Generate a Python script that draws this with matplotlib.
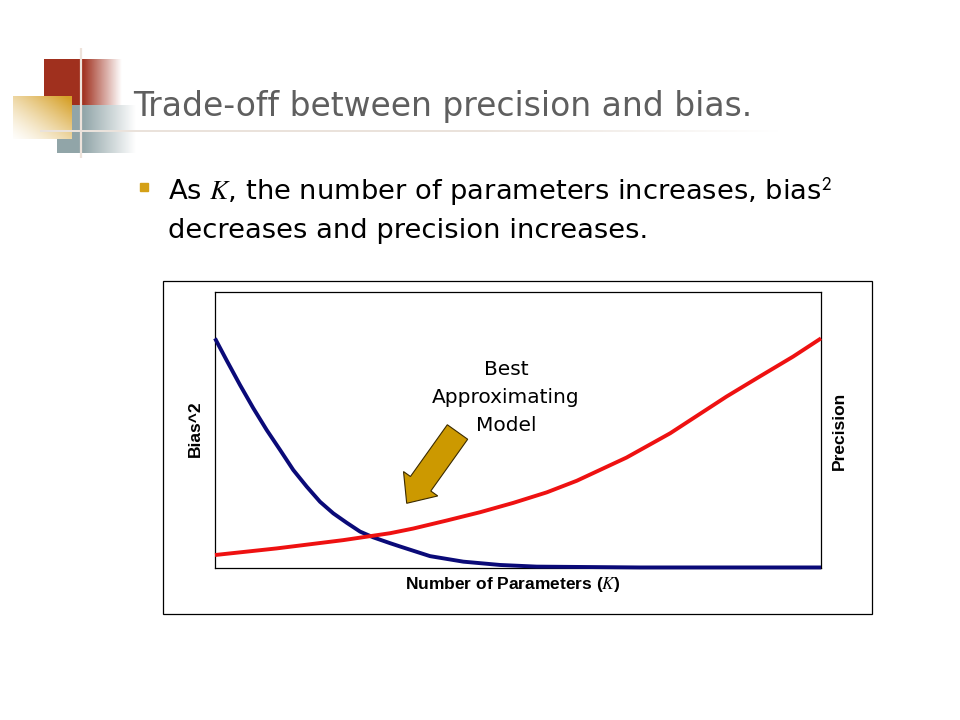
import numpy as np
import matplotlib
matplotlib.use("Agg")
import matplotlib.pyplot as plt
from matplotlib.patches import Polygon, Rectangle

plt.rcParams["mathtext.fontset"] = "stix"

# curve readings (x = number of parameters on a 0-10 scale, y = relative height)
bias_x = [0.0, 0.193, 0.413, 0.632, 0.853, 1.073, 1.292, 1.513, 1.733, 1.952,
          2.173, 2.393, 2.612, 2.888, 3.053, 3.548, 4.097, 4.703, 5.308, 7.01, 10.0]
bias_y = [0.832, 0.752, 0.663, 0.579, 0.500, 0.428, 0.355, 0.295, 0.240, 0.198,
          0.164, 0.132, 0.111, 0.090, 0.078, 0.043, 0.023, 0.011, 0.005, 0.002, 0.002]
prec_x = [0.0, 1.018, 2.117, 2.888, 3.272, 3.823, 4.373, 4.923, 5.474, 5.969,
          6.79, 7.51, 8.44, 8.99, 9.54, 10.0]
prec_y = [0.047, 0.071, 0.101, 0.126, 0.143, 0.172, 0.202, 0.236, 0.274, 0.316,
          0.400, 0.488, 0.621, 0.694, 0.766, 0.832]

title = "Trade-off between precision and bias."
bullet_1 = r"As $K$, the number of parameters increases, bias$^{\mathsf{2}}$"
bullet_2 = "decreases and precision increases."
note_lines = ["Best", "Approximating", "Model"]

W, H = 960, 720
fig = plt.figure(figsize=(W / 100, H / 100), dpi=100)
fig.patch.set_facecolor("white")

# full-figure axes in pixel units for the slide decoration
bg = fig.add_axes([0, 0, 1, 1])
bg.set_axis_off()


def block(x0, x1, y0, y1, rgb, fade_start, fade_end):
    xs = np.linspace(x0, x1, 200)
    a = np.clip((fade_end - xs) / (fade_end - fade_start), 0, 1)
    img = np.zeros((2, len(xs), 4))
    img[..., :3] = rgb
    img[..., 3] = a
    bg.imshow(img, extent=(x0, x1, y1, y0), aspect="auto", interpolation="bilinear", zorder=1)


block(44, 122, 59, 105, (0.63, 0.19, 0.12), 83, 122)
block(57, 136, 105, 153, (0.57, 0.65, 0.66), 83, 136)

# gold square, white (lower left) to gold (upper right)
gx, gy = np.meshgrid(np.linspace(0, 1, 120), np.linspace(0, 1, 90))
t = np.clip(0.05 + 0.5 * gx + 0.5 * (1 - gy), 0, 1) ** 1.4
gold = np.array([0.84, 0.63, 0.16])
img = np.ones((90, 120, 3)) * (1 - t[..., None]) + gold * t[..., None]
bg.imshow(img, extent=(13, 72, 139, 96), aspect="auto", interpolation="bilinear", zorder=2)

bg.plot([81, 81], [48, 158], color="#eee3db", lw=1.6, zorder=3, solid_capstyle="butt")
hx = np.linspace(40, 780, 300)
hl = np.zeros((1, len(hx), 4))
hl[..., :3] = (0.92, 0.89, 0.86)
hl[..., 3] = np.clip((780 - hx) / 300, 0, 1)
bg.imshow(hl, extent=(40, 780, 132.5, 130.5), aspect="auto", interpolation="bilinear", zorder=3)

bg.set_xlim(0, W)
bg.set_ylim(H, 0)

renderer = fig.canvas.get_renderer()


def fit_text(x, y, s, width, size, **kw):
    txt = bg.text(x, y, s, fontsize=size, va="baseline", ha="left", **kw)
    w = txt.get_window_extent(renderer).width
    txt.set_fontsize(size * width / w)
    return txt


fit_text(133, 116, title, 617, 26, color="#5f5f5f", family="DejaVu Sans", zorder=4)
bg.add_patch(Rectangle((140, 183), 8, 8, color="#d4a017", zorder=4))
b1 = fit_text(168, 200, bullet_1, 664, 19, color="black", family="DejaVu Sans")
bg.text(168, 238, bullet_2, fontsize=b1.get_fontsize(), va="baseline", ha="left",
        color="black", family="DejaVu Sans")

# frame around the chart picture
bg.add_patch(Rectangle((163, 281), 709, 333, fill=False, ec="black", lw=0.9, zorder=4))

# arrow pointing at the crossing
tip = np.array([406.7, 503.3])
tail = np.array([457.5, 432.0])
u = (tip - tail) / np.linalg.norm(tip - tail)
n = np.array([-u[1], u[0]]) * -1
base = tip - 24 * u
wb, wh = 12.5, 21
pts = [tail + wb * n, base + wb * n, base + wh * n, tip, base - wh * n, base - wb * n, tail - wb * n]
bg.add_patch(Polygon(pts, closed=True, fc="#cc9900", ec="#3a2a00", lw=0.8, zorder=6))

for line, yy in zip(note_lines, [375, 403, 431]):
    bg.text(506, yy, line, fontsize=14.5, ha="center", va="baseline", family="DejaVu Sans",
            color="black", zorder=6)

# the chart itself
ax = fig.add_axes([215 / W, 1 - 568 / H, (821 - 215) / W, (568 - 292) / H])
ax.plot(bias_x, bias_y, color="#0a0a78", lw=2.8, solid_joinstyle="round",
        solid_capstyle="butt", clip_on=False, zorder=3)
ax.plot(prec_x, prec_y, color="#ee1111", lw=2.8, solid_joinstyle="round",
        solid_capstyle="butt", clip_on=False, zorder=3)
ax.set_xlim(0, 10)
ax.set_ylim(0, 1)
ax.set_xticks([])
ax.set_yticks([])
for sp in ax.spines.values():
    sp.set_color("black")
    sp.set_linewidth(0.9)
ax.patch.set_alpha(0)

lab = dict(family="Liberation Sans", fontweight="bold", fontsize=12.5, color="black")
bg.text(195, 429, "Bias^2", rotation=90, ha="center", va="center", **lab)
bg.text(839, 431, "Precision", rotation=90, ha="center", va="center", **lab)
bg.text(513, 585, r"Number of Parameters ($K$)", ha="center", va="center", **lab)

fig.savefig("out.png", dpi=100, facecolor="white")
